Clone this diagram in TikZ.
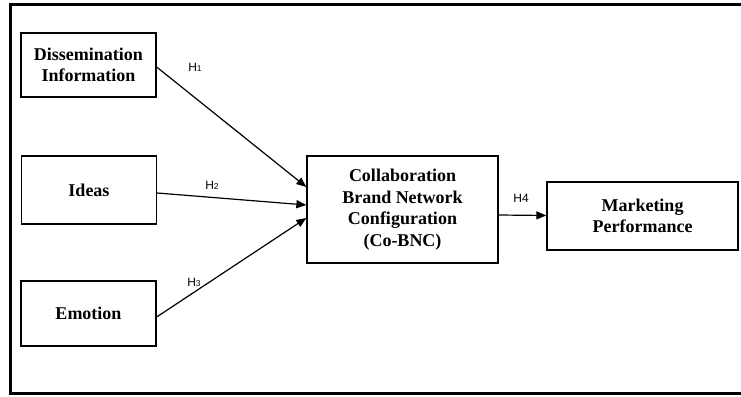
\documentclass[tikz,border=0pt]{standalone}
\usepackage{fontspec}
\setmainfont{Liberation Serif}
\newfontfamily\hfont{Liberation Sans}
\usepackage{tikz}
\usetikzlibrary{positioning, arrows.meta}

\tikzset{
  box/.style={draw, line width=1.3pt, align=center, inner sep=2pt,
    font=\fontsize{18}{21.5}\selectfont\bfseries},
  hyp/.style={font=\hfont\fontsize{12}{12}\selectfont, inner sep=0pt},
  path/.style={line width=1.2pt, -{Triangle[length=10pt,width=8pt]}}
}
\newcommand{\hsub}[1]{H{\fontsize{8.5}{8.5}\selectfont #1}}

\begin{document}
\begin{tikzpicture}[x=1pt,y=-1pt]
  \clip (0,0) rectangle (741,396);
  \useasboundingbox (0,0) rectangle (741,396);
  \draw[line width=3pt] (10,4.5) rectangle (760,393.5);

  \foreach \nm/\cx/\cy/\h/\txt in
    {diss/88.5/65/64/{Dissemination\\Information},
     ideas/89/190/68/Ideas,
     emot/88.5/313.5/65/Emotion}
    \node[box, minimum width=135pt, minimum height=\h pt] (\nm) at (\cx,\cy) {\txt};

  \node[box, minimum width=191pt, minimum height=107pt] (cobnc) at (402.5,209.5)
    {Collaboration\\Brand Network\\Configuration\\(Co-BNC)};
  \node[box, minimum width=191pt, minimum height=68pt] (mperf) at (642.5,216)
    {Marketing\\Performance};

  \draw[path] ([yshift=-2pt]diss.east) -- ([yshift=22.5pt]cobnc.west);
  \draw[path] ([yshift=-3pt]ideas.east) -- ([yshift=4.5pt]cobnc.west);
  \draw[path] ([yshift=-3.5pt]emot.east) -- ([yshift=-8.5pt]cobnc.west);
  \draw[path] ([yshift=-5.5pt]cobnc.east) -- ([yshift=0.5pt]mperf.west);

  \node[hyp] (h1) at (195,67) {\hsub{1}};
  \node[hyp] (h2) at (212,185) {\hsub{2}};
  \node[hyp] (h3) at (194,282) {\hsub{3}};
  \node[hyp] (h4) at (521,198) {H4};
\end{tikzpicture}
\end{document}
